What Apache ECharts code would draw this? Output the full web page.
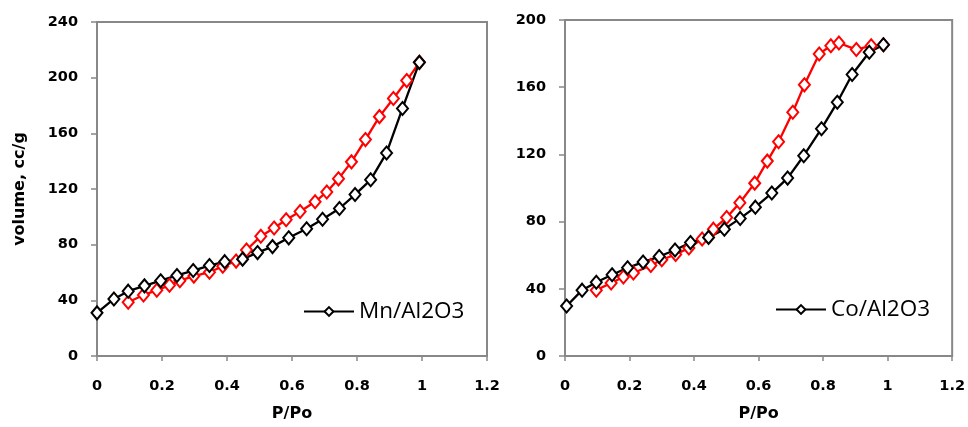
<!DOCTYPE html>
<html><head><meta charset="utf-8">
<script src="https://cdn.jsdelivr.net/npm/echarts@6/dist/echarts.min.js"></script>
<style>html,body{margin:0;padding:0;background:#fff}#c{width:968px;height:427px}</style>
</head><body><div id="c"></div>
<script>
// Mn/Al2O3 adsorption (black) [P/Po, volume]
const mnAdsP = [0.0,0.052,0.096,0.146,0.196,0.246,0.296,0.346,0.393,0.448,0.494,0.54,0.59,0.645,0.694,0.746,0.794,0.842,0.891,0.94,0.992];
const mnAdsV = [31,41,46.6,50.4,54.1,57.9,61.4,65,67.8,69.6,74.3,78.6,84.9,91.5,98.3,106,116,126.6,145.9,177.9,211];
// Mn/Al2O3 desorption (red)
const mnDesP = [0.096,0.143,0.184,0.223,0.255,0.298,0.346,0.387,0.428,0.46,0.504,0.545,0.582,0.625,0.671,0.707,0.743,0.783,0.826,0.869,0.912,0.953,0.992];
const mnDesV = [38.6,43.8,47.3,50.8,54.1,57.4,60.2,64.5,68.2,76.2,86.1,92,97.9,103.8,110.8,117.9,127.3,139.5,155.5,172,185,197.9,211];
// Co/Al2O3 adsorption (black)
const coAdsP = [0.005,0.053,0.097,0.146,0.194,0.242,0.292,0.341,0.389,0.445,0.494,0.543,0.59,0.641,0.69,0.74,0.795,0.844,0.89,0.943,0.987];
const coAdsV = [29.8,39.2,43.9,48.4,52.5,55.9,59.2,63.1,67.5,70.6,75.5,81.9,88.6,97,105.9,119.2,135.3,151,167.6,180.8,185.3];
// Co/Al2O3 desorption (red)
const coDesP = [0.097,0.143,0.181,0.212,0.266,0.3,0.343,0.384,0.425,0.46,0.501,0.542,0.588,0.627,0.662,0.706,0.742,0.788,0.824,0.849,0.903,0.949,0.987];
const coDesV = [39.2,43.5,47,49.4,53.9,57.3,60.4,64.3,69.6,75.5,82.4,91.2,102.9,116,127.5,145.1,161.4,179.8,184.7,186.3,182.4,184.7,185.3];
const xTicks = [0,0.2,0.4,0.6,0.8,1,1.2];
const leftYMax = 240, rightYMax = 200, yStep = 40;

const zip = (a,b)=>a.map((v,i)=>[v,b[i]]);
const gray = '#888888';
const lblFont = {fontFamily:'DejaVu Sans, sans-serif', fontWeight:'bold', fontSize:14.5, color:'#000'};

function xAxis(gi){
  return {type:'value', gridIndex:gi, min:xTicks[0], max:xTicks[xTicks.length-1], interval:0.2,
    name:'P/Po', nameLocation:'middle', nameGap:50,
    nameTextStyle:{fontFamily:'DejaVu Sans, sans-serif', fontWeight:'bold', fontSize:16, color:'#000'},
    axisLine:{lineStyle:{color:gray, width:2}}, axisTick:{lineStyle:{color:gray,width:1.5}, length:5},
    splitLine:{show:false},
    axisLabel:Object.assign({margin:23, formatter:v=>String(+v.toFixed(1))}, lblFont)};
}
function yAxis(gi,max,name){
  return {type:'value', gridIndex:gi, min:0, max:max, interval:yStep,
    name:name, nameLocation:'middle', nameGap:69, nameRotate:90,
    nameTextStyle:{fontFamily:'DejaVu Sans, sans-serif', fontWeight:'bold', fontSize:16, color:'#000'},
    axisLine:{lineStyle:{color:gray, width:2}}, axisTick:{lineStyle:{color:gray,width:1.5}, length:6},
    splitLine:{show:false},
    axisLabel:Object.assign({margin:19}, lblFont)};
}
function ser(name,data,color,xi){
  return {type:'line', name:name, xAxisIndex:xi, yAxisIndex:xi, data:data,
    symbol:'diamond', symbolSize:[11,13], showSymbol:true,
    lineStyle:{color:color, width:2.3}, itemStyle:{color:'#fff', borderColor:color, borderWidth:2},
    emphasis:{disabled:true}, animation:false};
}
const chart = echarts.init(document.getElementById('c'));
chart.setOption({
  animation:false,
  grid:[
    {left:97, top:22, width:390, height:340, show:true, borderColor:gray, borderWidth:2},
    {left:565, top:20, width:391, height:340, show:true, borderColor:gray, borderWidth:2}
  ],
  xAxis:[xAxis(0), xAxis(1)],
  yAxis:[yAxis(0,leftYMax,'volume, cc/g'), yAxis(1,rightYMax,'')],
  legend:[
    {data:['Mn/Al2O3'], left:303, top:300, padding:0, itemWidth:50, itemHeight:11, itemGap:4,
     textStyle:{fontFamily:'Open Sans, sans-serif', fontSize:22.5, color:'#000'}},
    {data:['Co/Al2O3'], left:775, top:298, padding:0, itemWidth:50, itemHeight:11, itemGap:4,
     textStyle:{fontFamily:'Open Sans, sans-serif', fontSize:22.5, color:'#000'}}
  ],
  series:[
    ser('Mn/Al2O3 des', zip(mnDesP,mnDesV), '#ff0000', 0),
    ser('Mn/Al2O3', zip(mnAdsP,mnAdsV), '#000000', 0),
    ser('Co/Al2O3 des', zip(coDesP,coDesV), '#ff0000', 1),
    ser('Co/Al2O3', zip(coAdsP,coAdsV), '#000000', 1)
  ]
});
</script></body></html>
